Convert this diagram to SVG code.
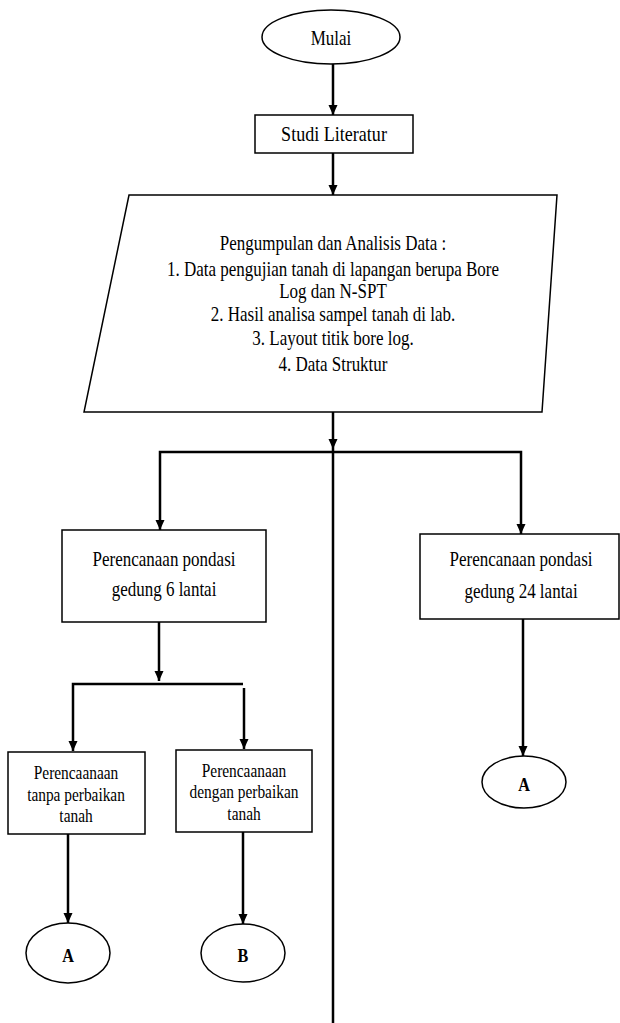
<svg xmlns="http://www.w3.org/2000/svg" width="620" height="1023" viewBox="0 0 620 1023">
<style>
.box{fill:#fff;stroke:#000;stroke-width:1.5}
.c{fill:none;stroke:#000;stroke-width:2.5}
</style>
<defs>
<marker id="ah" markerUnits="userSpaceOnUse" markerWidth="10" markerHeight="12" refX="10" refY="4.5" orient="auto">
<path d="M0,0 L10,4.5 L0,9 Z" fill="#000"/>
</marker>
</defs>
<rect width="620" height="1023" fill="#fff"/>
<g id="connectors">
<line class="c" x1="333" y1="64" x2="333" y2="115" marker-end="url(#ah)"/>
<line class="c" x1="333" y1="153" x2="333" y2="195" marker-end="url(#ah)"/>
<line class="c" x1="333" y1="412" x2="333" y2="449" marker-end="url(#ah)"/>
<line class="c" x1="333" y1="449" x2="333" y2="1023"/>
<polyline class="c" points="333,452 160,452 160,530" marker-end="url(#ah)"/>
<polyline class="c" points="333,452 521,452 521,534" marker-end="url(#ah)"/>
<line class="c" x1="159" y1="622" x2="159" y2="681" marker-end="url(#ah)"/>
<polyline class="c" points="243,684 73,684 73,751" marker-end="url(#ah)"/>
<line class="c" x1="244" y1="688" x2="244" y2="749" marker-end="url(#ah)"/>
<line class="c" x1="68" y1="834" x2="68" y2="923" marker-end="url(#ah)"/>
<line class="c" x1="243" y1="832" x2="243" y2="924" marker-end="url(#ah)"/>
<line class="c" x1="523" y1="619" x2="523" y2="756" marker-end="url(#ah)"/>
</g>
<g font-family="Liberation Serif, Times New Roman, serif" font-size="20" text-anchor="middle" fill="#000">
<g id="mulai">
<ellipse class="box" cx="331" cy="37" rx="69" ry="27"/>
<text transform="translate(331,45) scale(0.81,1)" font-size="21">Mulai</text>
</g>
<g id="studi">
<rect class="box" x="255" y="115" width="158" height="38"/>
<text transform="translate(334,141) scale(0.86,1)" font-size="21">Studi Literatur</text>
</g>
<g id="pengumpulan">
<polygon class="box" points="129,195 557,195 542,412 84,412"/>
<text transform="translate(333,250) scale(0.85,1)">Pengumpulan dan Analisis Data :</text>
<text transform="translate(333,276) scale(0.85,1)">1. Data pengujian tanah di lapangan berupa Bore</text>
<text transform="translate(333,298) scale(0.85,1)">Log dan N-SPT</text>
<text transform="translate(333,321) scale(0.85,1)">2. Hasil analisa sampel tanah di lab.</text>
<text transform="translate(333,345) scale(0.85,1)">3. Layout titik bore log.</text>
<text transform="translate(333,371) scale(0.85,1)">4. Data Struktur</text>
</g>
<g id="gedung6">
<rect class="box" x="62" y="530" width="204" height="92"/>
<text transform="translate(164,566) scale(0.85,1)">Perencanaan pondasi</text>
<text transform="translate(164,596) scale(0.85,1)">gedung 6 lantai</text>
</g>
<g id="gedung24">
<rect class="box" x="420" y="534" width="199" height="85"/>
<text transform="translate(521,566) scale(0.85,1)">Perencanaan pondasi</text>
<text transform="translate(521,598) scale(0.85,1)">gedung 24 lantai</text>
</g>
<g id="tanpa" font-size="19">
<rect class="box" x="8" y="752" width="137" height="82"/>
<text transform="translate(76,779) scale(0.81,1)">Perencaanaan</text>
<text transform="translate(76,801) scale(0.81,1)">tanpa perbaikan</text>
<text transform="translate(76,822) scale(0.81,1)">tanah</text>
</g>
<g id="dengan" font-size="19">
<rect class="box" x="176" y="750" width="136" height="82"/>
<text transform="translate(244,777) scale(0.81,1)">Perencaanaan</text>
<text transform="translate(244,798) scale(0.81,1)">dengan perbaikan</text>
<text transform="translate(244,820) scale(0.81,1)">tanah</text>
</g>
<g id="a1" font-size="19" font-weight="bold">
<ellipse class="box" cx="68" cy="953" rx="42" ry="30"/>
<text transform="translate(68,962) scale(0.85,1)">A</text>
</g>
<g id="b1" font-size="19" font-weight="bold">
<ellipse class="box" cx="243" cy="953" rx="42" ry="29"/>
<text transform="translate(243,962) scale(0.85,1)">B</text>
</g>
<g id="a2" font-size="19" font-weight="bold">
<ellipse class="box" cx="524" cy="782" rx="42" ry="26"/>
<text transform="translate(524,791) scale(0.85,1)">A</text>
</g>
</g>
</svg>
